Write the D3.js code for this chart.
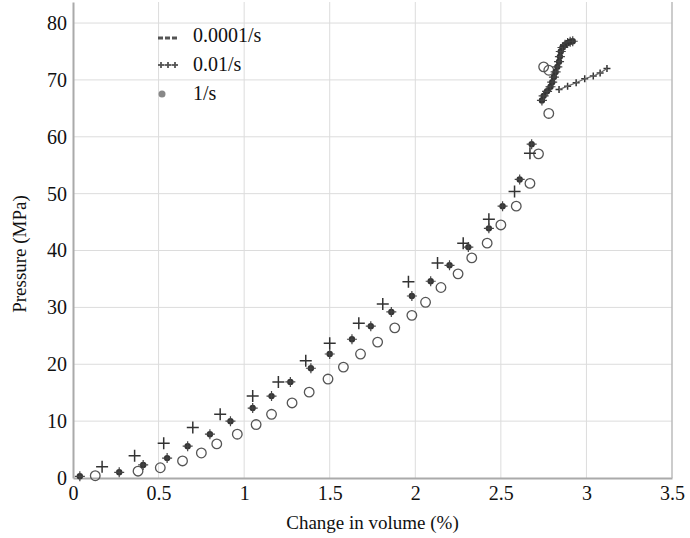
<!DOCTYPE html>
<html>
<head>
<meta charset="utf-8">
<script src="https://cdn.jsdelivr.net/npm/d3@7"></script>
<style>
  body { margin: 0; background: #fff; }
  svg text { font-family: "Times New Roman", "Liberation Serif", Times, "DejaVu Serif", serif !important; fill: #111; }
</style>
</head>
<body>
<div id="chart"></div>
<script>
// Series labels
const rateLabels = ["0.0001/s", "0.01/s", "1/s"];

// 0.0001/s (dark asterisk markers, dense at the top end)
const slowV = [0.04, 0.27, 0.41, 0.55, 0.67, 0.80, 0.92, 1.05, 1.16, 1.27, 1.39, 1.50, 1.63, 1.74, 1.86, 1.98, 2.09, 2.20, 2.31, 2.43, 2.51, 2.61, 2.68,
  2.74, 2.75, 2.77, 2.79, 2.80, 2.81, 2.82, 2.83, 2.84, 2.845, 2.85, 2.86, 2.875, 2.89, 2.905, 2.92];
const slowP = [0.3, 1.0, 2.3, 3.5, 5.6, 7.7, 10.0, 12.3, 14.4, 16.9, 19.3, 21.8, 24.4, 26.7, 29.2, 32.0, 34.6, 37.4, 40.6, 43.9, 47.8, 52.5, 58.7,
  66.4, 67.2, 68.0, 68.8, 69.6, 70.5, 71.4, 72.3, 73.2, 74.1, 75.0, 75.7, 76.2, 76.5, 76.7, 76.8];

// 0.01/s (plus markers)
const midV = [0.17, 0.36, 0.53, 0.70, 0.86, 1.05, 1.20, 1.36, 1.50, 1.67, 1.81, 1.96, 2.13, 2.28, 2.43, 2.58, 2.67,
  2.84, 2.89, 2.94, 2.99, 3.04, 3.08, 3.12];
const midP = [2.0, 3.9, 6.1, 8.9, 11.2, 14.4, 16.9, 20.6, 23.7, 27.2, 30.6, 34.5, 37.8, 41.3, 45.5, 50.4, 57.1,
  68.3, 68.9, 69.5, 70.2, 70.7, 71.2, 72.0];

// 1/s (open circles)
const fastV = [0.13, 0.38, 0.51, 0.64, 0.75, 0.84, 0.96, 1.07, 1.16, 1.28, 1.38, 1.49, 1.58, 1.68, 1.78, 1.88, 1.98, 2.06, 2.15, 2.25, 2.33, 2.42, 2.50, 2.59, 2.67, 2.72,
  2.78, 2.75, 2.78];
const fastP = [0.4, 1.2, 1.8, 3.0, 4.4, 6.0, 7.7, 9.4, 11.2, 13.2, 15.1, 17.4, 19.5, 21.8, 23.9, 26.4, 28.6, 30.9, 33.5, 35.9, 38.7, 41.3, 44.5, 47.8, 51.8, 57.0,
  64.1, 72.3, 71.7];

const xTicks = [0, 0.5, 1, 1.5, 2, 2.5, 3, 3.5];
const yTicks = [0, 10, 20, 30, 40, 50, 60, 70, 80];

const width = 690, height = 538;
const plotLeft = 73, plotRight = 672, plotTop = 2, plotBottom = 478;

const svg = d3.select("#chart").append("svg")
  .attr("width", width)
  .attr("height", height);

const x = d3.scaleLinear().domain([0, 3.5]).range([plotLeft, plotRight]);
const y = d3.scaleLinear().domain([0, 83.7]).range([plotBottom, plotTop]);

// Grid lines
svg.append("g").selectAll("line")
  .data(xTicks.slice(1, -1))
  .enter().append("line")
  .attr("x1", d => x(d)).attr("x2", d => x(d))
  .attr("y1", plotTop).attr("y2", plotBottom)
  .attr("stroke", "#dcdcdc").attr("stroke-width", 1);

svg.append("g").selectAll("line")
  .data(yTicks.slice(1))
  .enter().append("line")
  .attr("x1", plotLeft).attr("x2", plotRight)
  .attr("y1", d => y(d)).attr("y2", d => y(d))
  .attr("stroke", "#dcdcdc").attr("stroke-width", 1);

// Axes
const xAxis = svg.append("g")
  .attr("transform", `translate(0,${plotBottom})`)
  .call(d3.axisBottom(x).tickValues(xTicks).tickFormat(d3.format("")).tickSize(0).tickPadding(8));
const yAxis = svg.append("g")
  .attr("transform", `translate(${plotLeft},0)`)
  .call(d3.axisLeft(y).tickValues(yTicks).tickSize(0).tickPadding(6));

[xAxis, yAxis].forEach(a => {
  a.attr("font-family", null);
  a.select(".domain").attr("stroke", "#aaa").attr("stroke-width", 2);
  a.selectAll("text").attr("font-size", 20).attr("fill", "#111");
});

// right border
svg.append("line")
  .attr("x1", plotRight).attr("x2", plotRight).attr("y1", plotTop).attr("y2", plotBottom)
  .attr("stroke", "#bbb").attr("stroke-width", 1.5);

// Axis titles
svg.append("text")
  .attr("x", (plotLeft + plotRight) / 2).attr("y", 529)
  .attr("text-anchor", "middle")
  .attr("font-size", 19)
  .text("Change in volume (%)");

svg.append("text")
  .attr("transform", `translate(26,${(plotTop + plotBottom) / 2 + 14}) rotate(-90)`)
  .attr("text-anchor", "middle")
  .attr("font-size", 19)
  .text("Pressure (MPa)");

// Marker helpers
function asterisk(g, cx, cy) {
  g.append("circle").attr("cx", cx).attr("cy", cy).attr("r", 3.2).attr("fill", "#333");
  g.append("path")
    .attr("d", `M${cx - 5},${cy}H${cx + 5}M${cx},${cy - 5}V${cy + 5}`)
    .attr("stroke", "#444").attr("stroke-width", 1.2);
}
function plus(g, cx, cy, s) {
  g.append("path")
    .attr("d", `M${cx - s},${cy}H${cx + s}M${cx},${cy - s}V${cy + s}`)
    .attr("stroke", "#333").attr("stroke-width", 1.5);
}

// 1/s circles
svg.append("g").selectAll("circle")
  .data(fastV.map((v, i) => [v, fastP[i]]))
  .enter().append("circle")
  .attr("cx", d => x(d[0])).attr("cy", d => y(d[1]))
  .attr("r", 4.8)
  .attr("fill", "none").attr("stroke", "#555").attr("stroke-width", 1.3);

// 0.01/s plus
const gMid = svg.append("g");
midV.forEach((v, i) => plus(gMid, x(v), y(midP[i]), v > 2.8 ? 3.5 : 6));
gMid.append("path")
  .datum(midV.map((v, i) => [v, midP[i]]).filter(d => d[0] > 2.8))
  .attr("d", d3.line().x(d => x(d[0])).y(d => y(d[1])))
  .attr("fill", "none").attr("stroke", "#666").attr("stroke-width", 1.2);

// 0.0001/s asterisks
const gSlow = svg.append("g");
slowV.forEach((v, i) => asterisk(gSlow, x(v), y(slowP[i])));

// Legend
const lg = svg.append("g");
const legY = [36, 65, 94];
rateLabels.forEach((lab, i) => {
  lg.append("text")
    .attr("x", 193).attr("y", legY[i] + 6)
    .attr("font-size", 20)
    .text(lab);
});
[158, 165, 172].forEach(px => {
  lg.append("line").attr("x1", px).attr("x2", px + 5).attr("y1", legY[0] + 2).attr("y2", legY[0] + 2)
    .attr("stroke", "#555").attr("stroke-width", 3);
});
[161, 168, 175].forEach(px => plus(lg, px, legY[1], 3));
lg.append("line").attr("x1", 158).attr("x2", 178).attr("y1", legY[1]).attr("y2", legY[1])
  .attr("stroke", "#666").attr("stroke-width", 1.2);
lg.append("circle").attr("cx", 162).attr("cy", legY[2]).attr("r", 3.5).attr("fill", "#888");
</script>
</body>
</html>
